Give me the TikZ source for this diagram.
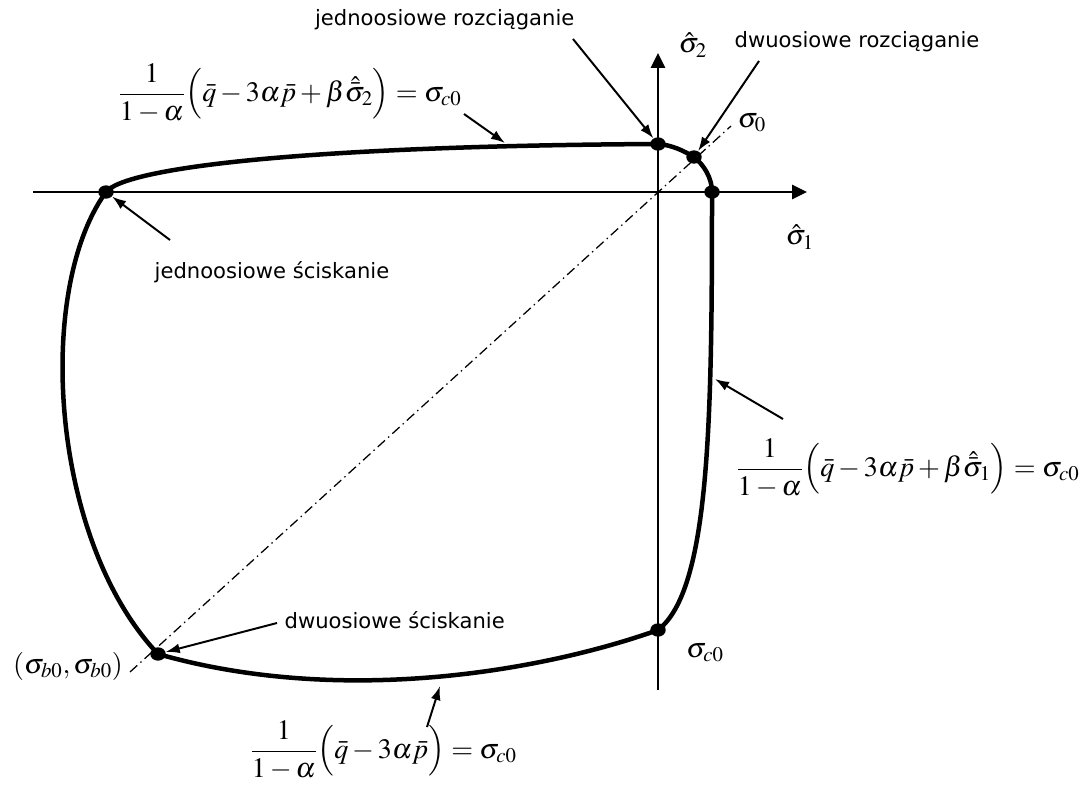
\documentclass[tikz,border=0pt]{standalone}
\usepackage{amsmath}
\usepackage{mathptmx}
\usepackage[no-math]{fontspec}
\newfontfamily\labelfont{DejaVu Sans}
\usetikzlibrary{arrows.meta, positioning, calc, shapes.geometric}

\begin{document}
\begin{tikzpicture}[x=0.025cm, y=-0.025cm,
    axis/.style={line width=1.6pt, -{Triangle[length=10.5pt, width=10pt]}},
    surface/.style={line width=3.2pt},
    pkt/.style={ellipse, fill, inner sep=0pt, minimum width=11pt, minimum height=9.5pt},
    pointer/.style={line width=1.4pt, -{Latex[length=10pt, width=7pt]}},
    diag/.style={line width=0.9pt, dash pattern=on 7pt off 3pt on 1pt off 3pt},
    opis/.style={font=\labelfont\fontsize{15}{18}\selectfont, inner sep=1pt},
    wzor/.style={font=\fontsize{20}{24}\selectfont, inner sep=0pt}]

    \useasboundingbox (0,0) rectangle (1091,787);

    % osie
    \coordinate (xs) at (33,192);
    \coordinate (xe) at (807,192);
    \coordinate (ys) at (658,690);
    \coordinate (ye) at (658,53);
    \draw[axis] (xs) -- (xe);
    \draw[axis] (ys) -- (ye);
    \node[wzor] (s1) at (800,237) {$\hat{\sigma}_1$};
    \node[wzor] (s2) at (693,45) {$\hat{\sigma}_2$};

    % przekatna
    \coordinate (dl) at (130,672);
    \coordinate (du) at (731,126);
    \draw[diag] (dl) -- (du);

    % punkty charakterystyczne
    \node[pkt] (A) at (106,192) {};
    \node[pkt] (B) at (658,144) {};
    \node[pkt] (C) at (694,157) {};
    \node[pkt] (D) at (712,192) {};
    \node[pkt] (E) at (658,630) {};
    \node[pkt] (F) at (158,654) {};

    % powierzchnia plastycznosci
    \draw[surface] (A.center) .. controls (125,168) and (300,146) .. (B.center)
        .. controls (672,145) and (684,151) .. (C.center)
        .. controls (704,165) and (712,178) .. (D.center)
        .. controls (712,420) and (710,590) .. (E.center)
        .. controls (540,672) and (340,706) .. (F.center)
        .. controls (50,540) and (35,290) .. (A.center);

    \node[wzor] (s0) at (752,123) {$\sigma_0$};
    \node[wzor] (sc) at (705,653) {$\sigma_{c0}$};
    \node[wzor] (sb) at (68,666) {$(\sigma_{b0},\sigma_{b0})$};

    % opisy
    \node[opis, anchor=east] (jr) at (576,20) {jednoosiowe rozciąganie};
    \coordinate (jr0) at (573,39);
    \draw[pointer] (jr0) -- (B);

    \node[opis, anchor=west] (dr) at (733,42) {dwuosiowe rozciąganie};
    \coordinate (dr0) at (759,61);
    \draw[pointer] (dr0) -- (C);

    \node[opis, anchor=west] (js) at (153,272) {jednoosiowe ściskanie};
    \coordinate (js0) at (170,240);
    \draw[pointer] (js0) -- (A);

    \node[opis, anchor=west] (ds) at (283,620) {dwuosiowe ściskanie};
    \coordinate (ds0) at (277,623);
    \draw[pointer] (ds0) -- (F);

    % warunki
    \node[wzor, anchor=west] (fg) at (118,93) {$\displaystyle\frac{1}{1-\alpha}\Bigl(\bar{q}-3\alpha\bar{p}+\beta\hat{\bar{\sigma}}_2\Bigr)=\sigma_{c0}$};
    \coordinate (fg0) at (464,114);
    \coordinate (fg1) at (505,143);
    \draw[pointer] (fg0) -- (fg1);

    \node[wzor, anchor=west] (fp) at (736,468) {$\displaystyle\frac{1}{1-\alpha}\Bigl(\bar{q}-3\alpha\bar{p}+\beta\hat{\bar{\sigma}}_1\Bigr)=\sigma_{c0}$};
    \coordinate (fp0) at (783,419);
    \coordinate (fp1) at (715,379);
    \draw[pointer] (fp0) -- (fp1);

    \node[wzor, anchor=west] (fd) at (250,750) {$\displaystyle\frac{1}{1-\alpha}\Bigl(\bar{q}-3\alpha\bar{p}\Bigr)=\sigma_{c0}$};
    \coordinate (fd0) at (427,727);
    \coordinate (fd1) at (440,686);
    \draw[pointer] (fd0) -- (fd1);
\end{tikzpicture}
\end{document}
